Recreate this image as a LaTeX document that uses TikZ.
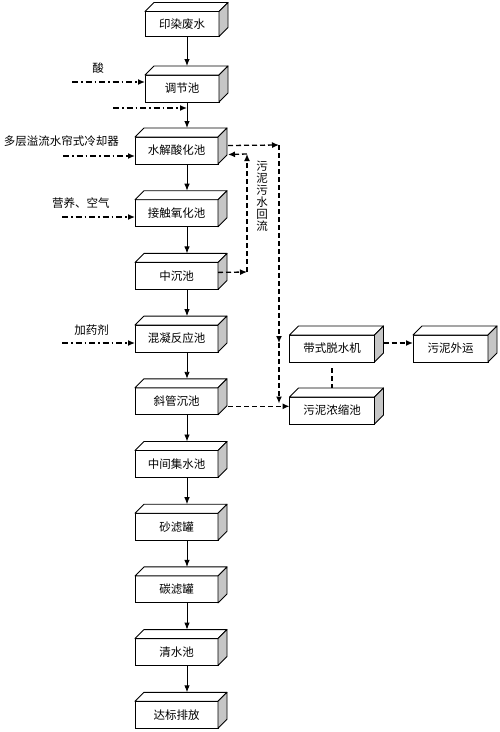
\documentclass[tikz,border=0pt]{standalone}
\usepackage{fontspec}
\setmainfont{Noto Sans CJK SC}
\usepackage{tikz}
\usetikzlibrary{arrows.meta,positioning}
\tikzstyle{tank} = [rectangle, draw, fill=white, line width=0.9pt, outer sep=0pt, inner sep=0pt, minimum width=83pt, minimum height=27pt, font=\fontsize{11.5}{13}\selectfont]
\tikzstyle{topface} = [draw, fill=white, line width=0.9pt, line join=round]
\tikzstyle{sideface} = [draw, fill=gray!45, line width=0.9pt, line join=round]
\tikzstyle{feedtext} = [inner sep=0pt, font=\fontsize{11.5}{12}\selectfont]
\tikzstyle{arrow} = [line width=0.9pt, -{Latex[length=7pt,width=5.5pt]}]
\tikzstyle{feed} = [line width=1.3pt, dash pattern=on 6pt off 3pt on 1.5pt off 3pt, -{Latex[length=7pt,width=6pt]}]
\tikzstyle{sludge} = [line width=1.3pt, dash pattern=on 5pt off 3pt, -{Latex[length=7pt,width=6pt]}]
\tikzstyle{sludgethick} = [sludge, line width=2pt]

\begin{document}
\begin{tikzpicture}[x=1pt, y=1pt, node distance=62.7pt]
\useasboundingbox (0,0) rectangle (500,-732);

% Main treatment line
\node (yrfs) [tank, minimum width=74pt, minimum height=25pt] at (182,-24) {印染废水};
\node (tjc) [tank, minimum width=74pt, below of=yrfs, node distance=64.5pt] {调节池};
\node (sjsh) [tank, below of=tjc, node distance=62pt, xshift=-5.5pt] {水解酸化池};
\node (jcyh) [tank, below of=sjsh] {接触氧化池};
\node (zcc) [tank, below of=jcyh] {中沉池};
\node (hnfy) [tank, below of=zcc] {混凝反应池};
\node (xgcc) [tank, below of=hnfy] {斜管沉池};
\node (zjjs) [tank, below of=xgcc] {中间集水池};
\node (slg) [tank, below of=zjjs] {砂滤罐};
\node (tlg) [tank, below of=slg] {碳滤罐};
\node (qsc) [tank, below of=tlg] {清水池};
\node (dbpf) [tank, below of=qsc] {达标排放};

% Sludge line
\node (dsts) [tank, minimum width=85pt] at (332,-348.5) {带式脱水机};
\node (wnns) [tank, minimum width=85pt, below of=dsts, node distance=62pt] {污泥浓缩池};
\node (wnwy) [tank, minimum width=75pt, right of=dsts, node distance=118.5pt] {污泥外运};

% Top and side faces
\foreach \n in {yrfs,tjc,sjsh,jcyh,zcc,hnfy,xgcc,zjjs,slg,tlg,qsc,dbpf,dsts,wnns,wnwy} {
  \draw[topface] (\n.north west) -- ++(9,9) -- ([shift={(9,9)}]\n.north east) -- (\n.north east) -- cycle;
  \draw[sideface] (\n.north east) -- ++(9,9) -- ([shift={(9,9)}]\n.south east) -- (\n.south east) -- cycle;
}

% Flow arrows
\coordinate (axis) at (187,0);
\foreach \a/\b in {yrfs/tjc,tjc/sjsh,sjsh/jcyh,jcyh/zcc,zcc/hnfy,hnfy/xgcc,xgcc/zjjs,zjjs/slg,slg/tlg,tlg/qsc,qsc/dbpf}
  \draw[arrow] (\a.south -| axis) -- ([yshift=9pt]\b.north -| axis);

% Dosing
\node (suan) [feedtext] at (98,-68) {酸};
\node (lqq) [feedtext] at (61.5,-141) {多层溢流水帘式冷却器};
\node (yy) [feedtext] at (81,-203) {营养、空气};
\node (jyj) [feedtext] at (91.5,-330) {加药剂};
\coordinate (in1) at (72,-82);
\coordinate (in2) at (113,-108);
\coordinate (in3) at (63,-156);
\coordinate (in4) at (62,-217);
\coordinate (in5) at (62,-343);
\draw[feed] (in1) -- (in1 -| tjc.west);
\draw[feed] (in2) -- (in2 -| axis);
\draw[feed] (in3) -- (in3 -| sjsh.west);
\draw[feed] (in4) -- (in4 -| jcyh.west);
\draw[feed] (in5) -- (in5 -| hnfy.west);

% Sludge and return flow
\coordinate (down) at (279,-145);
\draw[sludge] ([shift={(10,5)}]sjsh.east) -- (down);
\draw[sludge] (down) -- ([yshift=5.5pt]dsts.west -| down);
\draw[sludge] ([yshift=5.5pt]dsts.west -| down) -- ([yshift=7pt]wnns.west -| down);
\coordinate (ret) at (247,-272);
\coordinate (ret2) at (247,-154);
\draw[sludge] ([yshift=3.5pt]zcc.east) -- (ret);
\draw[sludge] (ret) -- (ret2);
\draw[sludge] (ret2) -- ([shift={(10,-4)}]sjsh.east);
\node (hl) [feedtext, align=center] at (262,-196) {污\\泥\\污\\水\\回\\流};
\draw[sludge] ([shift={(10,-5)}]xgcc.east) -- ([yshift=-5pt]xgcc.east -| wnns.west);
\draw[sludgethick] ([shift={(9,5.5)}]dsts.east) -- ([yshift=5.5pt]dsts.east -| wnwy.west);
\draw[sludgethick, -, shorten <=6pt] (dsts.south) -- ([yshift=9pt]wnns.north);
\end{tikzpicture}
\end{document}
